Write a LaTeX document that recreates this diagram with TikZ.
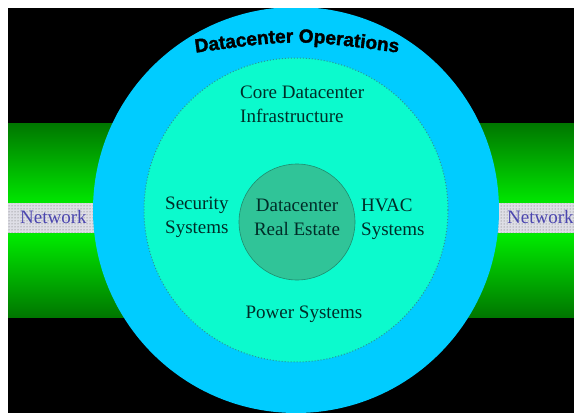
\documentclass[tikz,border=0pt]{standalone}
\usepackage{fontspec}
\setmainfont{Liberation Serif}
\newfontfamily\headfont{Liberation Sans}[BoldFont=Liberation Sans Bold, BoldFeatures={FakeBold=1.8}]
\usetikzlibrary{patterns,decorations.text}
\definecolor{bandDark}{RGB}{0,118,0}
\definecolor{bandLight}{RGB}{0,255,0}
\definecolor{opsCyan}{RGB}{0,204,255}
\definecolor{coreAqua}{RGB}{12,250,205}
\definecolor{coreEdge}{RGB}{40,150,150}
\definecolor{reFill}{RGB}{48,196,152}
\definecolor{reEdge}{RGB}{30,140,110}
\definecolor{labelInk}{RGB}{0,45,40}
\definecolor{netInk}{RGB}{75,70,175}
\definecolor{stripBg}{RGB}{222,222,230}
\tikzset{
  lbl/.style={text=labelInk, font=\fontsize{19}{24}\selectfont, inner sep=0pt},
  netlbl/.style={text=netInk, font=\fontsize{19}{22}\selectfont, inner sep=0pt, anchor=base west},
  strip/.style={fill=stripBg},
  stripdots/.style={pattern=dots, pattern color=gray!80!black}
}
\begin{document}
\begin{tikzpicture}[x=1pt,y=-1pt]
\useasboundingbox (0,0) rectangle (574,413);
\fill[white] (0,0) rectangle (574,413);
\begin{scope}
\clip (8,8) rectangle (574,413);
\fill[black] (8,8) rectangle (574,413);
% green band
\shade[top color=bandDark, bottom color=bandDark, middle color=bandLight] (8,123) rectangle (574,317);
% network strips
\fill[strip] (8,203) rectangle (200,233);
\fill[stripdots] (8,203) rectangle (200,233);
\fill[strip] (400,203) rectangle (574,233);
\fill[stripdots] (400,203) rectangle (574,233);
\node[netlbl] (netL) at (20,223) {Network};
\node[netlbl] (netR) at (507,223) {Network};
% circles
\fill[opsCyan] (296,210) circle [radius=203pt];
\fill[coreAqua] (296,210) circle [radius=152pt];
\draw[coreEdge, line width=1pt, dotted] (296,210) circle [radius=152pt];
\node[circle, fill=reFill, draw=reEdge, line width=0.6pt, minimum size=116pt, inner sep=0pt] (re) at (297,222) {};
% title along arc
\path[decorate, decoration={text along path, text align=center,
  text={|\headfont\bfseries\fontsize{19}{20}\selectfont|Datacenter Operations}}]
  (193,53) .. controls (296,39) .. (401,53);
\end{scope}
% labels (base = baseline of the last line)
\node[lbl, anchor=base west, align=left] (core) at (240,122) {Core Datacenter\\Infrastructure};
\node[lbl, anchor=base west, align=left] (sec) at (165,233) {Security\\Systems};
\node[lbl, anchor=base, align=center] (reText) at (297,235) {Datacenter\\Real Estate};
\node[lbl, anchor=base west, align=left] (hvac) at (361,235) {HVAC\\Systems};
\node[lbl, anchor=base] (power) at (304,318) {Power Systems};
\end{tikzpicture}
\end{document}
